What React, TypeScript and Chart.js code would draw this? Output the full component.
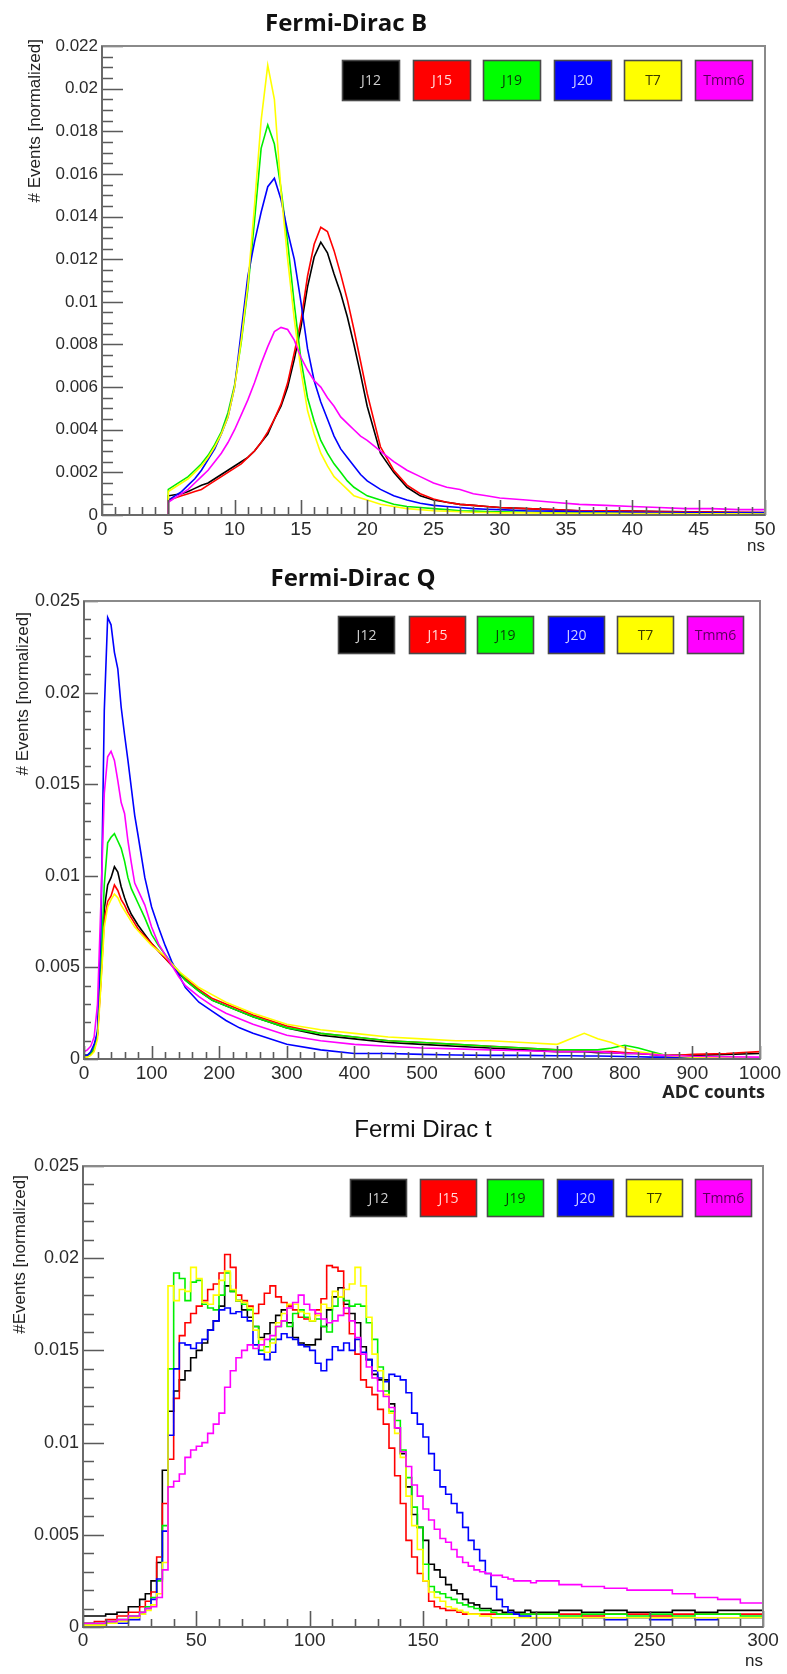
import React, { useEffect, useRef } from 'react';
import { Chart, registerables } from 'chart.js';

Chart.register(...registerables);

// ---------- series identity ----------
const SERIES_NAMES = ['J12', 'J15', 'J19', 'J20', 'T7', 'Tmm6'];
const SERIES_COLORS = ['#000000', '#ff0000', '#00ee00', '#0000ff', '#ffff00', '#ff00ff'];
const LEGEND_FILLS = ['#000000', '#ff0000', '#00ff00', '#0000ff', '#ffff00', '#ff00ff'];
const LEGEND_TEXT = ['#d0d0d0', '#ffd8d8', '#0a3a0a', '#d0d0ff', '#3a3a00', '#5a005a'];

// ---------- Panel 1 : Fermi-Dirac B (ns) ----------
const bX = [0, 4.99, 5, 5.5, 6, 6.5, 7, 7.5, 8, 8.5, 9, 9.5, 10, 10.5, 11, 11.5, 12, 12.5, 13, 13.5, 14, 14.5, 15, 15.5, 16, 16.5, 17, 17.5, 18, 18.5, 19, 19.5, 20, 21, 22, 23, 24, 25, 26, 27, 28, 29, 30, 32, 34, 36, 38, 40, 42, 44, 46, 48, 50];
const bJ12 = [0, 0, 0.0009, 0.00095, 0.001, 0.0011, 0.00125, 0.0014, 0.0015, 0.0017, 0.0019, 0.0021, 0.0023, 0.0025, 0.0027, 0.003, 0.0034, 0.0038, 0.0045, 0.0051, 0.006, 0.0073, 0.0088, 0.0107, 0.0121, 0.0128, 0.0123, 0.0113, 0.0104, 0.0093, 0.008, 0.0066, 0.0051, 0.0029, 0.002, 0.0013, 0.0009, 0.0007, 0.0006, 0.0005, 0.00045, 0.0004, 0.00035, 0.0003, 0.00025, 0.0002, 0.0002, 0.00018, 0.00016, 0.00015, 0.00014, 0.00012, 0.00012];
const bJ15 = [0, 0, 0.0007, 0.0008, 0.0009, 0.001, 0.0011, 0.0012, 0.0014, 0.0016, 0.0018, 0.002, 0.0022, 0.0024, 0.0027, 0.003, 0.0034, 0.0039, 0.0045, 0.0052, 0.0062, 0.0076, 0.0091, 0.0112, 0.0127, 0.0135, 0.0133, 0.0124, 0.0113, 0.0101, 0.0087, 0.0072, 0.0057, 0.0032, 0.0021, 0.0014, 0.001, 0.00075, 0.0006, 0.0005, 0.00045, 0.0004, 0.00035, 0.0003, 0.00025, 0.0002, 0.0002, 0.00018, 0.00016, 0.00015, 0.00014, 0.00013, 0.00012];
const bJ19 = [0, 0, 0.0012, 0.0014, 0.0016, 0.0018, 0.0021, 0.0024, 0.0028, 0.0033, 0.0039, 0.0048, 0.0061, 0.0081, 0.0106, 0.0138, 0.0172, 0.0183, 0.0174, 0.0153, 0.0128, 0.0099, 0.0073, 0.0055, 0.0044, 0.0035, 0.0029, 0.0024, 0.002, 0.0016, 0.0013, 0.0011, 0.0009, 0.0007, 0.0005, 0.0004, 0.00035, 0.0003, 0.00025, 0.0002, 0.00018, 0.00016, 0.00015, 0.00013, 0.00012, 0.0001, 0.0001, 0.00009, 0.00008, 0.00008, 0.00007, 0.00007, 0.00006];
const bJ20 = [0, 0, 0.0007, 0.0009, 0.0011, 0.0014, 0.0017, 0.0021, 0.0026, 0.0031, 0.0038, 0.0046, 0.006, 0.0086, 0.0112, 0.0128, 0.0142, 0.0154, 0.0158, 0.0148, 0.0133, 0.012, 0.01, 0.0078, 0.0063, 0.0053, 0.0045, 0.0037, 0.0031, 0.0027, 0.0023, 0.0019, 0.0016, 0.0012, 0.0009, 0.0007, 0.00055, 0.00045, 0.0004, 0.00035, 0.0003, 0.00027, 0.00025, 0.0002, 0.00018, 0.00016, 0.00015, 0.00013, 0.00012, 0.00011, 0.0001, 0.0001, 0.0001];
const bT7 = [0, 0, 0.0011, 0.0013, 0.0015, 0.0017, 0.002, 0.0023, 0.0027, 0.0032, 0.0038, 0.0046, 0.006, 0.0082, 0.0108, 0.0145, 0.0185, 0.0211, 0.0195, 0.0152, 0.012, 0.0092, 0.0068, 0.0049, 0.0038, 0.0029, 0.0023, 0.0018, 0.0015, 0.0012, 0.0009, 0.0008, 0.0007, 0.0005, 0.0004, 0.0003, 0.00025, 0.0002, 0.00018, 0.00015, 0.00013, 0.00012, 0.0001, 0.0001, 0.00009, 0.00008, 0.00008, 0.00007, 0.00007, 0.00006, 0.00006, 0.00006, 0.00005];
const bTmm6 = [0, 0, 0.0006, 0.0008, 0.001, 0.0012, 0.0015, 0.0018, 0.0021, 0.0025, 0.0029, 0.0034, 0.004, 0.0047, 0.0054, 0.0062, 0.0071, 0.0079, 0.0086, 0.0088, 0.0087, 0.0082, 0.0074, 0.0068, 0.0063, 0.006, 0.0055, 0.0051, 0.0046, 0.0043, 0.004, 0.0037, 0.0035, 0.003, 0.0025, 0.0021, 0.0018, 0.0015, 0.0013, 0.0012, 0.001, 0.0009, 0.0008, 0.0007, 0.0006, 0.0005, 0.00045, 0.0004, 0.00035, 0.0003, 0.0003, 0.00025, 0.00025];
const bXTicks = [0, 5, 10, 15, 20, 25, 30, 35, 40, 45, 50];
const bYTicks = [0, 0.002, 0.004, 0.006, 0.008, 0.01, 0.012, 0.014, 0.016, 0.018, 0.02, 0.022];

// ---------- Panel 2 : Fermi-Dirac Q (ADC counts) ----------
const qX = [0, 5, 10, 15, 20, 25, 30, 35, 40, 45, 50, 55, 60, 65, 70, 75, 80, 90, 100, 110, 120, 130, 140, 150, 170, 190, 210, 230, 250, 275, 300, 350, 400, 450, 500, 550, 600, 650, 700, 720, 740, 760, 780, 800, 820, 840, 860, 880, 900, 950, 1000];
const qJ12 = [0.0002, 0.0002, 0.0003, 0.0006, 0.0014, 0.0045, 0.0082, 0.0095, 0.0099, 0.0105, 0.0102, 0.0094, 0.0088, 0.0083, 0.0079, 0.0076, 0.0073, 0.0068, 0.0063, 0.0059, 0.0055, 0.0051, 0.0047, 0.0043, 0.0037, 0.0032, 0.0029, 0.0026, 0.0023, 0.002, 0.0017, 0.0013, 0.0011, 0.0009, 0.0008, 0.0007, 0.0006, 0.0005, 0.0004, 0.0004, 0.0004, 0.00035, 0.00035, 0.0003, 0.0003, 0.00025, 0.0002, 0.0002, 0.0002, 0.00025, 0.0003];
const qJ15 = [0.0002, 0.0002, 0.0003, 0.0005, 0.0013, 0.0042, 0.0076, 0.0086, 0.0089, 0.0095, 0.0092, 0.0087, 0.0084, 0.008, 0.0077, 0.0074, 0.0071, 0.0067, 0.0063, 0.0059, 0.0055, 0.0051, 0.0047, 0.0044, 0.0038, 0.0033, 0.003, 0.0027, 0.0024, 0.0021, 0.0018, 0.0014, 0.0012, 0.001, 0.0009, 0.0008, 0.0007, 0.0006, 0.0005, 0.0005, 0.00045, 0.0004, 0.0004, 0.00035, 0.0003, 0.00025, 0.0002, 0.0002, 0.00025, 0.0003, 0.0004];
const qJ19 = [0.0002, 0.0002, 0.0003, 0.0006, 0.0014, 0.005, 0.0095, 0.0118, 0.0121, 0.0123, 0.0119, 0.0115, 0.0108, 0.0099, 0.0093, 0.0089, 0.0085, 0.0077, 0.0068, 0.0062, 0.0057, 0.0052, 0.0048, 0.0043, 0.0037, 0.0032, 0.0029, 0.0026, 0.0023, 0.002, 0.0017, 0.0014, 0.0012, 0.001, 0.0009, 0.0008, 0.0007, 0.0006, 0.0005, 0.0005, 0.0005, 0.0005, 0.0006, 0.00075, 0.0006, 0.0004, 0.0002, 0.0001, 0.00006, 0.00004, 0.00003];
const qJ20 = [0.0002, 0.0002, 0.0004, 0.0008, 0.0015, 0.007, 0.019, 0.0241, 0.0237, 0.0222, 0.0213, 0.0192, 0.0177, 0.0163, 0.0148, 0.0133, 0.0122, 0.0099, 0.0083, 0.0072, 0.0062, 0.0053, 0.0046, 0.0039, 0.0031, 0.0026, 0.0021, 0.0017, 0.0014, 0.0011, 0.0008, 0.0005, 0.0003, 0.0003, 0.00025, 0.00022, 0.0002, 0.0002, 0.00018, 0.00018, 0.00016, 0.00016, 0.00015, 0.00014, 0.00012, 0.0001, 0.0001, 0.00006, 0.00004, 0.00002, 0.00001];
const qT7 = [0.0001, 0.0001, 0.0002, 0.0004, 0.0011, 0.004, 0.0072, 0.0083, 0.0087, 0.009, 0.0088, 0.0084, 0.0081, 0.0078, 0.0075, 0.0072, 0.007, 0.0066, 0.0062, 0.0059, 0.0056, 0.0052, 0.0048, 0.0045, 0.0039, 0.0035, 0.0031, 0.0028, 0.0025, 0.0022, 0.0019, 0.0016, 0.0014, 0.0012, 0.0011, 0.001, 0.001, 0.0009, 0.0008, 0.0011, 0.0014, 0.0011, 0.0009, 0.0006, 0.0004, 0.0003, 0.0002, 0.00015, 0.0001, 0.00005, 0.00005];
const qTmm6 = [0.0004, 0.0005, 0.0007, 0.0012, 0.003, 0.0085, 0.0145, 0.0165, 0.0168, 0.0163, 0.0152, 0.014, 0.0134, 0.0119, 0.0107, 0.0096, 0.0092, 0.0084, 0.0072, 0.0063, 0.0057, 0.0051, 0.0045, 0.004, 0.0034, 0.0029, 0.0025, 0.0022, 0.0019, 0.0016, 0.0013, 0.001, 0.0008, 0.0007, 0.0006, 0.00055, 0.0005, 0.00045, 0.0004, 0.0004, 0.0004, 0.0004, 0.00035, 0.0003, 0.0003, 0.00025, 0.0002, 0.00018, 0.00015, 0.00012, 0.0001];
const qXTicks = [0, 100, 200, 300, 400, 500, 600, 700, 800, 900, 1000];
const qYTicks = [0, 0.005, 0.01, 0.015, 0.02, 0.025];

// ---------- Panel 3 : Fermi Dirac t (ns), histogram bin edges ----------
const tX = [0, 5, 10, 15, 20, 25, 27.5, 30, 32.5, 35,
  37.5, 40, 42.5, 45, 47.5, 50, 52.5, 55, 57.5, 60,
  62.5, 65, 67.5, 70, 72.5, 75, 77.5, 80, 82.5, 85,
  87.5, 90, 92.5, 95, 97.5, 100, 102.5, 105, 107.5, 110,
  112.5, 115, 117.5, 120, 122.5, 125, 127.5, 130, 132.5, 135,
  137.5, 140, 142.5, 145, 147.5, 150, 152.5, 155, 157.5, 160,
  162.5, 165, 167.5, 170, 172.5, 175, 177.5, 180, 182.5, 185,
  187.5, 190, 192.5, 195, 197.5, 200, 210, 220, 230, 240,
  250, 260, 270, 280, 290, 300];
const tJ12 = [0.0006, 0.0006, 0.0007, 0.0008, 0.0011, 0.0015, 0.0018, 0.0025, 0.0035, 0.0085,
  0.0117, 0.0128, 0.0134, 0.0139, 0.0146, 0.015, 0.0154, 0.0161, 0.0166, 0.0174,
  0.0185, 0.0182, 0.0177, 0.0172, 0.0168, 0.0163, 0.0157, 0.0159, 0.0165, 0.0169,
  0.0172, 0.0165, 0.0157, 0.0154, 0.0153, 0.0153, 0.0156, 0.0163, 0.0172, 0.0179,
  0.0184, 0.0175, 0.017, 0.0165, 0.0152, 0.0145, 0.0137, 0.0134, 0.0134, 0.0121,
  0.0108, 0.0094, 0.0076, 0.0061, 0.0054, 0.0047, 0.0034, 0.0031, 0.0027, 0.0023,
  0.002, 0.0018, 0.0015, 0.0013, 0.0012, 0.001, 0.001, 0.0009, 0.0009, 0.0008,
  0.0009, 0.0008, 0.0008, 0.0009, 0.0008, 0.0008, 0.0009, 0.0008, 0.0009, 0.0008,
  0.0008, 0.0009, 0.0008, 0.0009, 0.0009, 0.0009];
const tJ15 = [0.0002, 0.0003, 0.0004, 0.0006, 0.0008, 0.0011, 0.0014, 0.0019, 0.0038, 0.0067,
  0.0091, 0.0124, 0.0158, 0.0165, 0.017, 0.0174, 0.0177, 0.0183, 0.0186, 0.0192,
  0.0202, 0.0195, 0.018, 0.0177, 0.0174, 0.017, 0.0175, 0.0181, 0.0185, 0.0179,
  0.0176, 0.0174, 0.0172, 0.0168, 0.0167, 0.0166, 0.0172, 0.0178, 0.0196, 0.0195,
  0.0193, 0.017, 0.0159, 0.0148, 0.0134, 0.013, 0.0126, 0.0118, 0.011, 0.0097,
  0.0082, 0.0067, 0.0047, 0.0038, 0.0029, 0.0025, 0.0014, 0.0011, 0.001, 0.0009,
  0.0009, 0.0008, 0.0007, 0.0007, 0.0007, 0.0007, 0.0007, 0.0007, 0.0007, 0.0007,
  0.0007, 0.0007, 0.0007, 0.0007, 0.0007, 0.0007, 0.0007, 0.0006, 0.0007, 0.0007,
  0.0006, 0.0007, 0.0007, 0.0007, 0.0007, 0.0007];
const tJ19 = [0.0002, 0.0002, 0.0003, 0.0004, 0.0006, 0.0008, 0.0011, 0.0016, 0.0025, 0.0055,
  0.014, 0.0192, 0.0189, 0.0177, 0.0187, 0.0188, 0.0175, 0.0173, 0.0172, 0.018,
  0.0192, 0.0182, 0.0177, 0.0175, 0.0172, 0.0163, 0.015, 0.0152, 0.0156, 0.0163,
  0.0166, 0.0163, 0.017, 0.0172, 0.0168, 0.0166, 0.0167, 0.0163, 0.016, 0.0174,
  0.0179, 0.0177, 0.0174, 0.0175, 0.0174, 0.0165, 0.0156, 0.0141, 0.0128, 0.0117,
  0.0112, 0.0096, 0.0081, 0.0065, 0.0054, 0.0034, 0.0022, 0.0019, 0.0018, 0.0016,
  0.0015, 0.0013, 0.0012, 0.0011, 0.001, 0.0009, 0.0009, 0.0008, 0.0007, 0.0007,
  0.0007, 0.0007, 0.0007, 0.0007, 0.0007, 0.0007, 0.0006, 0.0007, 0.0007, 0.0006,
  0.0007, 0.0006, 0.0007, 0.0007, 0.0006, 0.0006];
const tJ20 = [0.0001, 0.0001, 0.0002, 0.0002, 0.0004, 0.0007, 0.001, 0.0015, 0.0026, 0.0052,
  0.0104, 0.014, 0.0154, 0.0153, 0.0151, 0.0154, 0.0156, 0.0161, 0.0166, 0.0172,
  0.0173, 0.017, 0.0171, 0.0168, 0.0166, 0.0153, 0.0148, 0.0145, 0.0149, 0.0156,
  0.0159, 0.0157, 0.0156, 0.0153, 0.0152, 0.015, 0.0143, 0.0139, 0.0145, 0.0152,
  0.015, 0.0154, 0.015, 0.0156, 0.0149, 0.0145, 0.0139, 0.0135, 0.0133, 0.0137,
  0.0136, 0.0134, 0.0127, 0.0116, 0.011, 0.0103, 0.0094, 0.0085, 0.0076, 0.0072,
  0.0067, 0.0062, 0.0054, 0.0047, 0.0042, 0.0036, 0.0029, 0.0022, 0.0015, 0.0011,
  0.0008, 0.0007, 0.0006, 0.0006, 0.0005, 0.0005, 0.0005, 0.0005, 0.0004, 0.0005,
  0.0004, 0.0005, 0.0004, 0.0005, 0.0005, 0.0005];
const tT7 = [0.0001, 0.0001, 0.0002, 0.0003, 0.0005, 0.0007, 0.0009, 0.0012, 0.0018, 0.0035,
  0.0185, 0.0177, 0.0183, 0.0182, 0.0195, 0.0189, 0.0176, 0.0175, 0.018, 0.0188,
  0.0193, 0.0183, 0.0177, 0.0176, 0.0173, 0.0161, 0.0156, 0.0149, 0.0154, 0.0165,
  0.017, 0.0175, 0.0175, 0.0171, 0.017, 0.0166, 0.0169, 0.0175, 0.0173, 0.0182,
  0.0179, 0.0183, 0.0186, 0.0195, 0.0185, 0.0168, 0.0148, 0.0139, 0.0126, 0.0116,
  0.0105, 0.0092, 0.0071, 0.0055, 0.0042, 0.0025, 0.0019, 0.0016, 0.0014, 0.0011,
  0.001, 0.0009, 0.0008, 0.0007, 0.0007, 0.0006, 0.0006, 0.0005, 0.0005, 0.0005,
  0.0005, 0.0005, 0.0005, 0.0005, 0.0005, 0.0005, 0.0005, 0.0005, 0.0005, 0.0005,
  0.0005, 0.0005, 0.0005, 0.0005, 0.0005, 0.0005];
const tTmm6 = [0.0002, 0.0002, 0.0003, 0.0004, 0.0006, 0.0008, 0.001, 0.0011, 0.0016, 0.0031,
  0.0076, 0.0079, 0.0083, 0.0092, 0.0096, 0.0098, 0.01, 0.0105, 0.011, 0.0116,
  0.013, 0.0139, 0.0146, 0.015, 0.0153, 0.0151, 0.0153, 0.0156, 0.0158, 0.0163,
  0.0166, 0.0173, 0.0176, 0.018, 0.0175, 0.0172, 0.017, 0.0167, 0.0165, 0.0166,
  0.0169, 0.0173, 0.0166, 0.0157, 0.0148, 0.0141, 0.0135, 0.0128, 0.0125, 0.0119,
  0.0108, 0.0095, 0.0087, 0.0077, 0.0071, 0.0064, 0.0058, 0.0053, 0.0048, 0.0046,
  0.0042, 0.0038, 0.0035, 0.0033, 0.0031, 0.003, 0.0029, 0.0028, 0.0028, 0.0027,
  0.0026, 0.0025, 0.0025, 0.0025, 0.0024, 0.0025, 0.0023, 0.0022, 0.0021, 0.002,
  0.002, 0.0018, 0.0016, 0.0015, 0.0013, 0.0013];
const tXTicks = [0, 50, 100, 150, 200, 250, 300];
const tYTicks = [0, 0.005, 0.01, 0.015, 0.02, 0.025];

const SANS = '"Liberation Sans", Arial, sans-serif';
const OPEN = '"Open Sans", "Liberation Sans", sans-serif';

function fmtY(v: number) {
  return v === 0 ? '0' : String(Number(v.toFixed(4)));
}

type PanelCfg = {
  top: number; height: number;
  L: number; R: number; T: number; B: number;
  x: number[]; series: number[][]; stepped: boolean;
  xMax: number; yMax: number; xTicks: number[]; yTicks: number[];
  xMinor: number; xMajorEvery: number; yMinor: number; yMajorEvery: number;
  xMajorLen: number; xMinorLen: number; yMajorLen: number; yMinorLen: number;
  yLabelSize: number; xLabelSize: number; xPad: number;
  title: string; titleFont: string; titleX: number; titleBase: number;
  yTitle: string; yTitleX: number; yTitleTop: number; yTitleSize: number;
  xTitle: string; xTitleFont: string; xTitleRight: number; xTitleBase: number;
  legX: number[]; legY: number; legW: number; legH: number;
};

function makeDecor(c: PanelCfg) {
  return {
    id: 'rootDecor',
    afterDraw(chart: any) {
      const { ctx, chartArea: a, scales } = chart;
      const xs = scales.x, ys = scales.y;
      ctx.save();
      // tick marks (inside the frame, ROOT style)
      ctx.strokeStyle = '#5a5a5a';
      ctx.lineWidth = 1.6;
      ctx.beginPath();
      const nx = Math.round(c.xMax / c.xMinor);
      for (let i = 0; i <= nx; i++) {
        const px = Math.round(xs.getPixelForValue(i * c.xMinor)) + 0.5;
        const len = i % c.xMajorEvery === 0 ? c.xMajorLen : c.xMinorLen;
        ctx.moveTo(px, a.bottom);
        ctx.lineTo(px, a.bottom - len);
      }
      const ny = Math.round(c.yMax / c.yMinor);
      for (let i = 0; i <= ny; i++) {
        const py = Math.round(ys.getPixelForValue(i * c.yMinor)) + 0.5;
        const len = i % c.yMajorEvery === 0 ? c.yMajorLen : c.yMinorLen;
        ctx.moveTo(a.left, py);
        ctx.lineTo(a.left + len, py);
      }
      ctx.stroke();
      // frame
      ctx.strokeStyle = '#8a8a8a';
      ctx.lineWidth = 2;
      ctx.strokeRect(a.left, a.top, a.right - a.left, a.bottom - a.top);
      ctx.strokeStyle = '#6a6a6a';
      ctx.beginPath();
      ctx.moveTo(a.left, a.top);
      ctx.lineTo(a.left, a.bottom);
      ctx.lineTo(a.right, a.bottom);
      ctx.stroke();

      // legend boxes
      SERIES_NAMES.forEach((name, i) => {
        const bx = c.legX[i];
        ctx.fillStyle = LEGEND_FILLS[i];
        ctx.fillRect(bx, c.legY, c.legW, c.legH);
        ctx.strokeStyle = '#4a4a4a';
        ctx.lineWidth = 1.6;
        ctx.strokeRect(bx + 0.5, c.legY + 0.5, c.legW - 1, c.legH - 1);
        ctx.fillStyle = LEGEND_TEXT[i];
        ctx.font = `14px ${OPEN}`;
        ctx.textAlign = 'center';
        ctx.textBaseline = 'middle';
        ctx.fillText(name, bx + c.legW / 2, c.legY + c.legH / 2 + 1);
      });

      // main title
      ctx.fillStyle = '#111';
      ctx.font = c.titleFont;
      ctx.textAlign = 'center';
      ctx.textBaseline = 'alphabetic';
      ctx.fillText(c.title, c.titleX, c.titleBase);

      // x axis title (bottom right)
      ctx.font = c.xTitleFont;
      ctx.textAlign = 'right';
      ctx.fillStyle = '#222';
      ctx.fillText(c.xTitle, c.xTitleRight, c.xTitleBase);

      // y axis title (rotated, aligned to top)
      ctx.save();
      ctx.translate(c.yTitleX, c.yTitleTop);
      ctx.rotate(-Math.PI / 2);
      ctx.font = `${c.yTitleSize}px ${SANS}`;
      ctx.textAlign = 'right';
      ctx.textBaseline = 'middle';
      ctx.fillStyle = '#222';
      ctx.fillText(c.yTitle, 0, 0);
      ctx.restore();

      ctx.restore();
    },
  };
}

function Panel({ c }: { c: PanelCfg }) {
  const ref = useRef<HTMLCanvasElement>(null);
  useEffect(() => {
    const canvas = ref.current!;
    const chart = new Chart(canvas, {
      type: 'line',
      data: {
        datasets: SERIES_NAMES.map((name, i) => ({
          label: name,
          data: c.x.map((xv, j) => ({ x: xv, y: c.series[i][j] })),
          borderColor: SERIES_COLORS[i],
          backgroundColor: SERIES_COLORS[i],
          borderWidth: 1.6,
          pointRadius: 0,
          fill: false,
          tension: 0,
          stepped: c.stepped ? 'before' : false,
          order: 5 - i,
        })),
      },
      options: {
        animation: false,
        responsive: false,
        maintainAspectRatio: false,
        devicePixelRatio: 1,
        events: [],
        layout: { padding: { left: 0, top: c.T, right: c.R, bottom: 0 } },
        plugins: { legend: { display: false }, tooltip: { enabled: false }, title: { display: false } },
        scales: {
          x: {
            type: 'linear',
            min: 0,
            max: c.xMax,
            grid: { display: false, drawTicks: false },
            border: { display: false },
            ticks: {
              autoSkip: false,
              maxRotation: 0,
              minRotation: 0,
              padding: c.xPad,
              color: '#2a2a2a',
              font: { family: SANS, size: c.xLabelSize },
              callback: (v: any) => String(v),
            },
            afterBuildTicks: (s: any) => { s.ticks = c.xTicks.map((v) => ({ value: v })); },
            afterFit: (s: any) => { s.height = c.B; },
          },
          y: {
            type: 'linear',
            min: 0,
            max: c.yMax,
            grid: { display: false, drawTicks: false },
            border: { display: false },
            ticks: {
              autoSkip: false,
              padding: 4,
              color: '#2a2a2a',
              font: { family: SANS, size: c.yLabelSize },
              callback: (v: any) => fmtY(Number(v)),
            },
            afterBuildTicks: (s: any) => { s.ticks = c.yTicks.map((v) => ({ value: v })); },
            afterFit: (s: any) => { s.width = c.L; },
          },
        },
      },
      plugins: [makeDecor(c)],
    } as any);
    return () => chart.destroy();
  }, [c]);
  return (
    <canvas
      ref={ref}
      width={787}
      height={c.height}
      style={{ position: 'absolute', left: 0, top: c.top, width: 787, height: c.height }}
    />
  );
}

const PANEL_B: PanelCfg = {
  top: 0, height: 555, L: 102, R: 22, T: 46, B: 40,
  x: bX, series: [bJ12, bJ15, bJ19, bJ20, bT7, bTmm6], stepped: false,
  xMax: 50, yMax: 0.022, xTicks: bXTicks, yTicks: bYTicks,
  xMinor: 1, xMajorEvery: 5, yMinor: 0.0005, yMajorEvery: 4,
  xMajorLen: 15, xMinorLen: 8, yMajorLen: 21, yMinorLen: 11,
  yLabelSize: 17, xLabelSize: 19, xPad: 3,
  title: 'Fermi-Dirac B', titleFont: `bold 24px ${OPEN}`, titleX: 346, titleBase: 31,
  yTitle: '# Events [normalized]', yTitleX: 35, yTitleTop: 39, yTitleSize: 17,
  xTitle: 'ns', xTitleFont: `17px ${SANS}`, xTitleRight: 765, xTitleBase: 551,
  legX: [342, 413, 483, 554, 624, 695], legY: 60, legW: 58, legH: 41,
};

const PANEL_Q: PanelCfg = {
  top: 555, height: 555, L: 84, R: 27, T: 46, B: 51,
  x: qX, series: [qJ12, qJ15, qJ19, qJ20, qT7, qTmm6], stepped: false,
  xMax: 1000, yMax: 0.025, xTicks: qXTicks, yTicks: qYTicks,
  xMinor: 20, xMajorEvery: 5, yMinor: 0.001, yMajorEvery: 5,
  xMajorLen: 13, xMinorLen: 7, yMajorLen: 14, yMinorLen: 7,
  yLabelSize: 18, xLabelSize: 19, xPad: 3,
  title: 'Fermi-Dirac Q', titleFont: `bold 24px ${OPEN}`, titleX: 353, titleBase: 31,
  yTitle: '# Events [normalized]', yTitleX: 23, yTitleTop: 57, yTitleSize: 17,
  xTitle: 'ADC counts', xTitleFont: `bold 18px ${OPEN}`, xTitleRight: 765, xTitleBase: 543,
  legX: [338, 409, 477, 548, 617, 687], legY: 61, legW: 57, legH: 38,
};

const PANEL_T: PanelCfg = {
  top: 1110, height: 564, L: 83, R: 24, T: 56, B: 47,
  x: tX, series: [tJ12, tJ15, tJ19, tJ20, tT7, tTmm6], stepped: true,
  xMax: 300, yMax: 0.025, xTicks: tXTicks, yTicks: tYTicks,
  xMinor: 10, xMajorEvery: 5, yMinor: 0.001, yMajorEvery: 5,
  xMajorLen: 16, xMinorLen: 8, yMajorLen: 21, yMinorLen: 11,
  yLabelSize: 18, xLabelSize: 19, xPad: 2,
  title: 'Fermi Dirac t', titleFont: `24px ${SANS}`, titleX: 423, titleBase: 27,
  yTitle: '#Events [normalized]', yTitleX: 20, yTitleTop: 65, yTitleSize: 17,
  xTitle: 'ns', xTitleFont: `17px ${SANS}`, xTitleRight: 763, xTitleBase: 556,
  legX: [350, 420, 487, 557, 626, 695], legY: 69, legW: 57, legH: 38,
};

export default function App() {
  return (
    <div style={{ position: 'absolute', left: 0, top: 0, width: 787, height: 1674, background: '#ffffff' }}>
      <Panel c={PANEL_B} />
      <Panel c={PANEL_Q} />
      <Panel c={PANEL_T} />
    </div>
  );
}
